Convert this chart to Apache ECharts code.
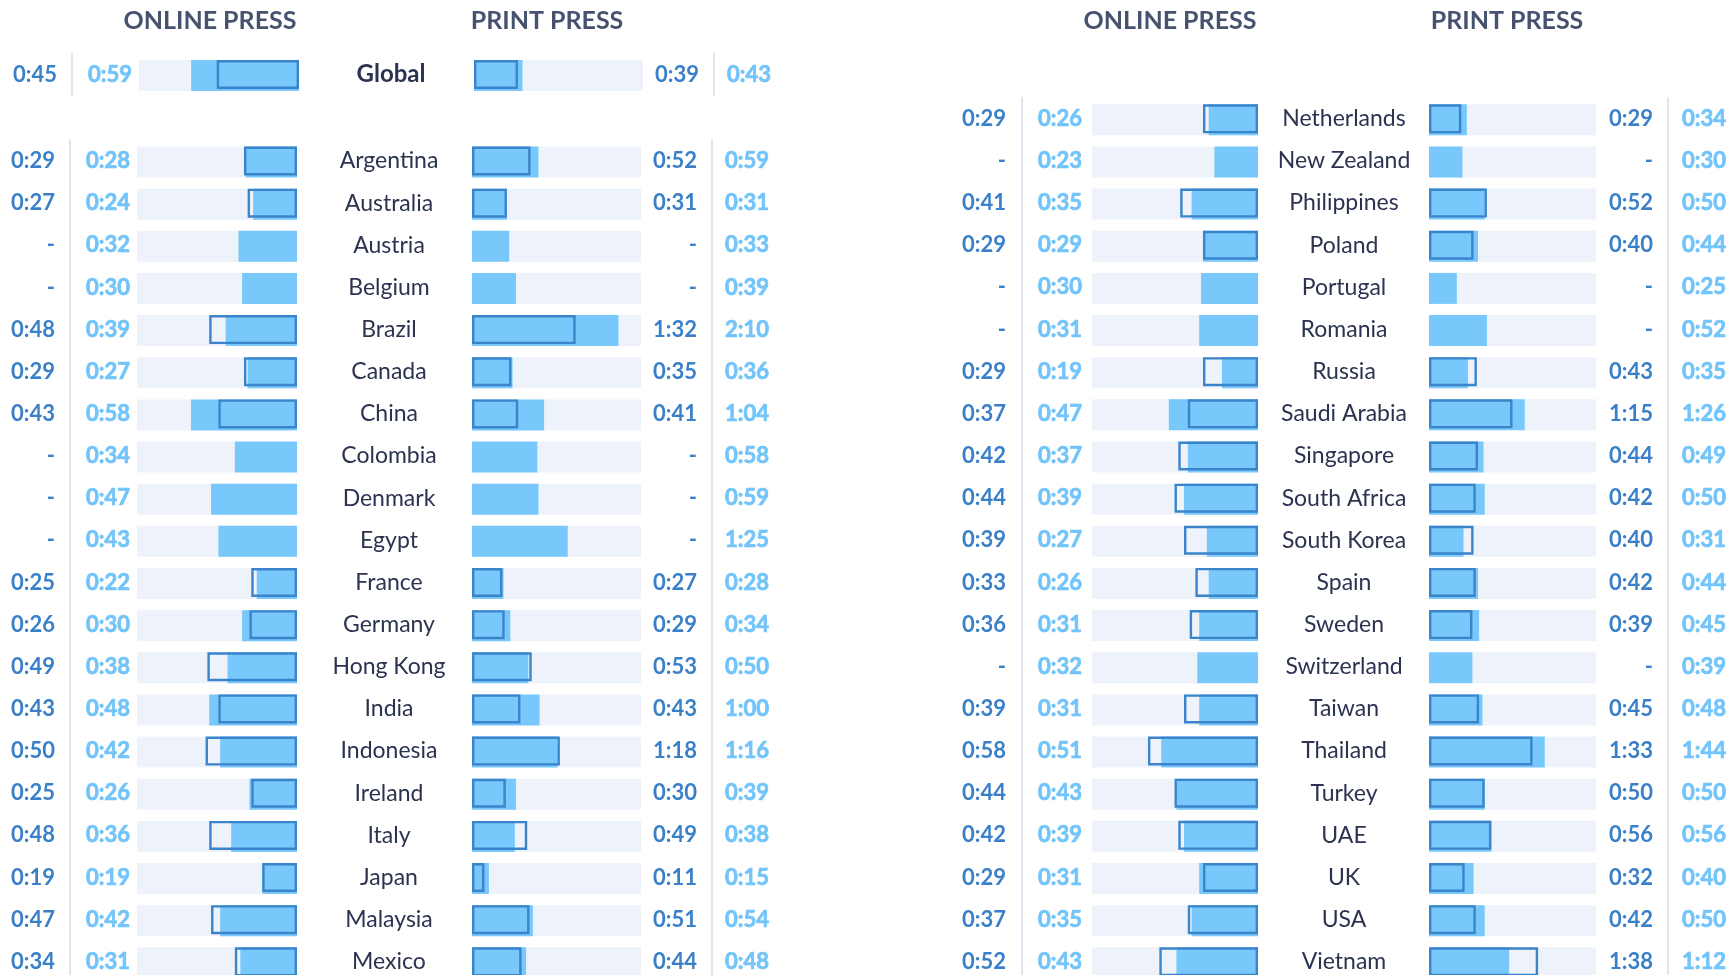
<!DOCTYPE html>
<html>
<head>
<meta charset="utf-8">
<script src="https://cdn.jsdelivr.net/npm/echarts@6/dist/echarts.min.js"></script>
<style>
  html, body { margin: 0; padding: 0; background: #ffffff; }
  #chart { width: 1732px; height: 975px; }
</style>
</head>
<body>
<div id="chart"></div>
<script>
// Average time spent per visit (m:ss); '-' = not available.
// "Dark" = first figure (outlined bar), "light" = second figure (filled bar).
const globalRow          = ['Global'];
const globalOnlineDark   = ['0:45'];
const globalOnlineLight  = ['0:59'];
const globalPrintDark    = ['0:39'];
const globalPrintLight   = ['0:43'];

const leftCountries = ['Argentina', 'Australia', 'Austria', 'Belgium', 'Brazil', 'Canada', 'China',
  'Colombia', 'Denmark', 'Egypt', 'France', 'Germany', 'Hong Kong', 'India', 'Indonesia',
  'Ireland', 'Italy', 'Japan', 'Malaysia', 'Mexico'];
const leftOnlineDark  = ['0:29', '0:27', '-', '-', '0:48', '0:29', '0:43', '-', '-', '-', '0:25', '0:26',
  '0:49', '0:43', '0:50', '0:25', '0:48', '0:19', '0:47', '0:34'];
const leftOnlineLight = ['0:28', '0:24', '0:32', '0:30', '0:39', '0:27', '0:58', '0:34', '0:47', '0:43',
  '0:22', '0:30', '0:38', '0:48', '0:42', '0:26', '0:36', '0:19', '0:42', '0:31'];
const leftPrintDark   = ['0:52', '0:31', '-', '-', '1:32', '0:35', '0:41', '-', '-', '-', '0:27', '0:29',
  '0:53', '0:43', '1:18', '0:30', '0:49', '0:11', '0:51', '0:44'];
const leftPrintLight  = ['0:59', '0:31', '0:33', '0:39', '2:10', '0:36', '1:04', '0:58', '0:59', '1:25',
  '0:28', '0:34', '0:50', '1:00', '1:16', '0:39', '0:38', '0:15', '0:54', '0:48'];

const rightCountries = ['Netherlands', 'New Zealand', 'Philippines', 'Poland', 'Portugal', 'Romania',
  'Russia', 'Saudi Arabia', 'Singapore', 'South Africa', 'South Korea', 'Spain', 'Sweden',
  'Switzerland', 'Taiwan', 'Thailand', 'Turkey', 'UAE', 'UK', 'USA', 'Vietnam'];
const rightOnlineDark  = ['0:29', '-', '0:41', '0:29', '-', '-', '0:29', '0:37', '0:42', '0:44', '0:39',
  '0:33', '0:36', '-', '0:39', '0:58', '0:44', '0:42', '0:29', '0:37', '0:52'];
const rightOnlineLight = ['0:26', '0:23', '0:35', '0:29', '0:30', '0:31', '0:19', '0:47', '0:37', '0:39',
  '0:27', '0:26', '0:31', '0:32', '0:31', '0:51', '0:43', '0:39', '0:31', '0:35', '0:43'];
const rightPrintDark   = ['0:29', '-', '0:52', '0:40', '-', '-', '0:43', '1:15', '0:44', '0:42', '0:40',
  '0:42', '0:39', '-', '0:45', '1:33', '0:50', '0:56', '0:32', '0:42', '1:38'];
const rightPrintLight  = ['0:34', '0:30', '0:50', '0:44', '0:25', '0:52', '0:35', '1:26', '0:49', '0:50',
  '0:31', '0:44', '0:45', '0:39', '0:48', '1:44', '0:50', '0:56', '0:40', '0:50', '1:12'];

// Axis extents in seconds
const ONLINE_MAX = 87.5;
const PRINT_MAX = 150;

const FONT = 'Lato, "Open Sans", sans-serif';
const C_TRACK = '#eef3fb';
const C_LIGHT = '#78c8fb';
const C_DARK = '#3a84cc';
const C_DARK_TXT = '#3a80c8';
const C_LIGHT_TXT = '#72c4fa';
const C_NAME = '#2b3350';
const C_SEP = '#dfe6f2';
const ROW_H = 42.15;

function toSec(s) {
  if (s === '-') return null;
  const [m, sec] = s.split(':').map(Number);
  return m * 60 + sec;
}

const option = {
  backgroundColor: '#ffffff',
  animation: false,
  title: [],
  grid: [],
  xAxis: [],
  yAxis: [],
  series: []
};

// Column headings
[['ONLINE PRESS', 205], ['PRINT PRESS', 542], ['ONLINE PRESS', 1165], ['PRINT PRESS', 1502]].forEach(([t, x]) => {
  option.title.push({
    text: t, left: x, top: 3, textAlign: 'center',
    textStyle: { fontFamily: FONT, fontSize: 25, fontWeight: 'bold', color: '#46526f' }
  });
});

function valueLabel(color, list, extra) {
  return Object.assign({
    interval: 0, color: color, fontFamily: FONT, fontSize: 22, fontWeight: 700,
    formatter: (v, i) => list[i]
  }, extra);
}
// the pale figures get a hairline outline in their own colour so they hold their weight
const lightStroke = { textBorderColor: C_LIGHT_TXT, textBorderWidth: 0.7 };

function addBlock(b) {
  const n = b.rows.length;
  const gOn = option.grid.length;
  const gridBase = { top: b.top, height: n * ROW_H, outerBoundsMode: 'none', containLabel: false };
  option.grid.push(Object.assign({ left: b.onL, width: b.onW }, gridBase));
  option.grid.push(Object.assign({ left: b.prL, width: b.prW }, gridBase));

  const xOn = option.xAxis.length;
  option.xAxis.push({ gridIndex: gOn, type: 'value', min: 0, max: ONLINE_MAX, inverse: true, show: false });
  option.xAxis.push({ gridIndex: gOn + 1, type: 'value', min: 0, max: PRINT_MAX, show: false });

  const cat = {
    type: 'category', data: b.rows, inverse: true,
    axisTick: { show: false }, axisLine: { show: false }, splitLine: { show: false }
  };
  const sepLine = { show: true, lineStyle: { color: C_SEP, width: 2 } };
  const y0 = option.yAxis.length;
  // online: light figure beside the track
  option.yAxis.push(Object.assign({}, cat, {
    gridIndex: gOn, position: 'left', offset: 0,
    axisLabel: valueLabel(C_LIGHT_TXT, b.onLight, Object.assign({ margin: b.onLightM }, lightStroke))
  }));
  // online: separator + dark figure
  option.yAxis.push(Object.assign({}, cat, {
    gridIndex: gOn, position: 'left', offset: b.onSepOff, axisLine: sepLine,
    axisLabel: valueLabel(C_DARK_TXT, b.onDark, { margin: b.onDarkM })
  }));
  // country names between the two tracks
  option.yAxis.push(Object.assign({}, cat, {
    gridIndex: gOn + 1, position: 'left', offset: 0,
    axisLabel: {
      interval: 0, margin: b.nameM, align: 'center', color: C_NAME, fontFamily: FONT,
      fontSize: b.bold ? 24 : 23, fontWeight: b.bold ? 'bold' : 'normal'
    }
  }));
  // print: dark figure
  option.yAxis.push(Object.assign({}, cat, {
    gridIndex: gOn + 1, position: 'right', offset: 0,
    axisLabel: valueLabel(C_DARK_TXT, b.prDark, { margin: b.prDarkM, align: 'right' })
  }));
  // print: separator + light figure
  option.yAxis.push(Object.assign({}, cat, {
    gridIndex: gOn + 1, position: 'right', offset: b.prSepOff, axisLine: sepLine,
    axisLabel: valueLabel(C_LIGHT_TXT, b.prLight, Object.assign({ margin: b.prLightM, align: 'left' }, lightStroke))
  }));

  function bars(xi, yi, max, light, dark) {
    const common = { type: 'bar', xAxisIndex: xi, yAxisIndex: yi, barGap: '-100%', silent: true };
    option.series.push(Object.assign({}, common, {
      barWidth: 31, itemStyle: { color: C_TRACK }, data: b.rows.map(() => max)
    }));
    option.series.push(Object.assign({}, common, {
      barWidth: 31, itemStyle: { color: C_LIGHT }, data: light.map(toSec)
    }));
    option.series.push(Object.assign({}, common, {
      barWidth: 29,
      itemStyle: { color: 'rgba(0,0,0,0)', borderColor: C_DARK, borderWidth: 2.4 },
      data: dark.map(toSec)
    }));
  }
  bars(xOn, y0, ONLINE_MAX, b.onLight, b.onDark);
  bars(xOn + 1, y0 + 2, PRINT_MAX, b.prLight, b.prDark);
}

const leftLayout = {
  onL: 137, onW: 160, prL: 472, prW: 169,
  onLightM: 7, onSepOff: 67, onDarkM: 15, nameM: 83,
  prDarkM: 56, prSepOff: 71, prLightM: 13
};
const rightLayout = {
  onL: 1092, onW: 166, prL: 1429, prW: 167,
  onLightM: 10, onSepOff: 70, onDarkM: 16, nameM: 85,
  prDarkM: 57, prSepOff: 72, prLightM: 14
};

addBlock(Object.assign({}, leftLayout, {
  rows: globalRow, top: 53.4, bold: true, onL: 139, prL: 474,
  onDark: globalOnlineDark, onLight: globalOnlineLight,
  prDark: globalPrintDark, prLight: globalPrintLight
}));
addBlock(Object.assign({}, leftLayout, {
  rows: leftCountries, top: 139.9,
  onDark: leftOnlineDark, onLight: leftOnlineLight,
  prDark: leftPrintDark, prLight: leftPrintLight
}));
addBlock(Object.assign({}, rightLayout, {
  rows: rightCountries, top: 97.7,
  onDark: rightOnlineDark, onLight: rightOnlineLight,
  prDark: rightPrintDark, prLight: rightPrintLight
}));

const chart = echarts.init(document.getElementById('chart'), null, { renderer: 'canvas' });
chart.setOption(option);
</script>
</body>
</html>
